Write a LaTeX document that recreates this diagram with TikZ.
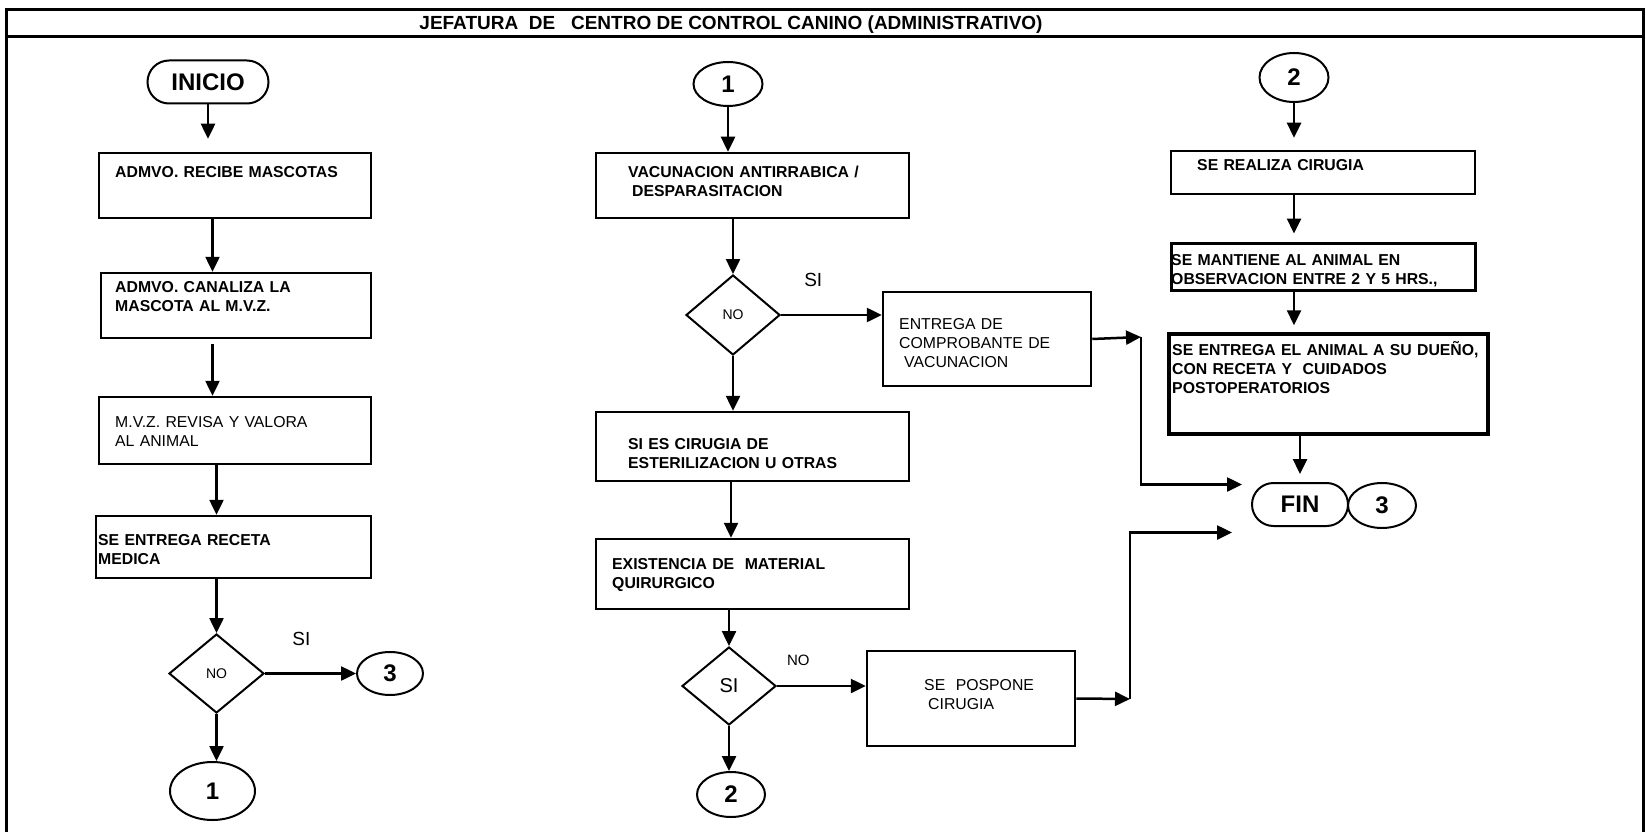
\documentclass[tikz,border=0pt]{standalone}
\usepackage{fontspec}
\setmainfont{Liberation Sans}
\usetikzlibrary{shapes.geometric, shapes.misc, arrows.meta}

\begin{document}
\begin{tikzpicture}[x=1pt, y=-1pt,
	caja/.style = {draw, line width=2.5pt, inner sep=0pt},
	inicio/.style = {draw, line width=2pt, rounded rectangle, minimum width=121pt, minimum height=43pt, inner sep=0pt, font=\fontsize{24}{28}\selectfont\bfseries},
	conector/.style = {draw, line width=2pt, ellipse, inner sep=0pt, font=\fontsize{24}{28}\selectfont\bfseries},
	decision/.style = {draw, line width=2pt, diamond, minimum width=95pt, minimum height=79pt, inner sep=0pt, font=\fontsize{14}{16}\selectfont},
	txt/.style = {anchor=base west, align=left, inner sep=0pt, text width=340pt, font=\fontsize{15.8}{19}\selectfont\bfseries},
	txtn/.style = {txt, font=\fontsize{15.8}{19}\selectfont},
	lbl/.style = {inner sep=0pt, font=\fontsize{19}{21}\selectfont},
	flecha/.style = {line width=2.5pt, -{Triangle[length=15pt, width=14pt]}}]
	\useasboundingbox (0,0) rectangle (1646,832);
	\draw[line width=3pt] (6,832) -- (6,10) -- (1643,10) -- (1643,832);
	\draw[line width=3pt] (6,37) -- (1643,37);
	\node[anchor=base, inner sep=0pt, font=\fontsize{19}{21}\selectfont\bfseries] (0) at (731,30) {JEFATURA\ \ DE\ \ \ CENTRO DE CONTROL CANINO (ADMINISTRATIVO)};

	\node[inicio] (1) at (208,82) {INICIO};
	\node[caja, minimum width=272pt, minimum height=65pt] (2) at (235,185.5) {};
	\node[txt] (2t) at (115,177) {ADMVO. RECIBE MASCOTAS};
	\node[caja, minimum width=270pt, minimum height=65pt] (3) at (236,305.5) {};
	\node[txt] (3t) at (115,292) {ADMVO. CANALIZA LA\\MASCOTA AL M.V.Z.};
	\node[caja, minimum width=272pt, minimum height=67pt] (4) at (235,430.5) {};
	\node[txtn] (4t) at (115,427) {M.V.Z. REVISA Y VALORA\\AL ANIMAL};
	\node[caja, minimum width=275pt, minimum height=62pt] (5) at (233.5,547) {};
	\node[txt] (5t) at (98,545) {SE ENTREGA RECETA\\MEDICA};
	\node[decision] (6) at (216.5,673.5) {NO};
	\node[conector, minimum width=66pt, minimum height=43pt] (7) at (390,673.5) {3};
	\node[conector, minimum width=85pt, minimum height=58pt] (8) at (212.5,791) {1};
	\draw[flecha, shorten >=13pt] (1.south) -- (1.south |- 2.north);
	\draw[flecha] (2.south -| 8) -- (3.north -| 8);
	\draw[flecha, shorten <=5pt] (3.south -| 8) -- (4.north -| 8);
	\draw[flecha] (4.south -| 6) -- (5.north -| 6);
	\draw[flecha] (5.south -| 6) -- (6.north);
	\draw[flecha] (6.east) -- (7.west) node[lbl, pos=0.4, above=27pt] (si1) {SI};
	\draw[flecha] (6.south) -- (6.south |- 8.north);

	\node[conector, minimum width=69pt, minimum height=44pt] (9) at (728,84) {1};
	\node[caja, minimum width=313pt, minimum height=65pt] (10) at (752.5,185.5) {};
	\node[txt] (10t) at (628,177) {VACUNACION ANTIRRABICA /\\\hspace*{4pt}DESPARASITACION};
	\node[decision, minimum width=94pt, minimum height=80pt] (11) at (733,315) {NO};
	\node[caja, minimum width=208pt, minimum height=94pt] (12) at (987,339) {};
	\node[txtn] (12t) at (899,329) {ENTREGA DE\\COMPROBANTE DE\\\hspace*{5pt}VACUNACION};
	\node[caja, minimum width=313pt, minimum height=69pt] (13) at (752.5,446.5) {};
	\node[txt] (13t) at (628,449) {SI ES CIRUGIA DE\\ESTERILIZACION U OTRAS};
	\node[caja, minimum width=313pt, minimum height=70pt] (14) at (752.5,574) {};
	\node[txt] (14t) at (612,569) {EXISTENCIA DE\ \ MATERIAL\\QUIRURGICO};
	\node[decision, minimum width=94pt, minimum height=78pt, font=\fontsize{20}{24}\selectfont] (15) at (729,686) {SI};
	\node[caja, minimum width=208pt, minimum height=95pt] (16) at (971,698.5) {};
	\node[txtn] (16t) at (924,690) {SE\ \ POSPONE\\\hspace*{4pt}CIRUGIA};
	\node[conector, minimum width=68pt, minimum height=45pt] (17) at (731,794.5) {2};
	\draw[flecha] (9.south) -- (9.south |- 10.north);
	\draw[flecha] (10.south -| 11) -- (11.north);
	\draw[flecha] (11.east) -- (11.east -| 12.west) node[lbl, pos=0.32, above=27pt] (si2) {SI};
	\draw[flecha] (11.south) -- (11.south |- 13.north);
	\draw[flecha] (13.south -| 17) -- (14.north -| 17);
	\draw[flecha] (14.south -| 15) -- (15.north);
	\draw[flecha] (15.east) -- (15.east -| 16.west) node[lbl, pos=0.24, above=19pt, font=\fontsize{15}{17}\selectfont] (no2) {NO};
	\draw[flecha] (15.south) -- (15.south |- 17.north);

	\node[conector, minimum width=69pt, minimum height=49pt] (18) at (1294,77.5) {2};
	\node[caja, minimum width=304pt, minimum height=43pt] (19) at (1323,172.5) {};
	\node[txt] (19t) at (1197,171) {SE REALIZA CIRUGIA};
	\node[caja, minimum width=304pt, minimum height=47pt, line width=3pt] (20) at (1323,266.5) {};
	\node[txt] (20t) at (1171,265) {SE MANTIENE AL ANIMAL EN\\OBSERVACION ENTRE 2 Y 5 HRS.,};
	\node[caja, minimum width=319pt, minimum height=100pt, line width=3.5pt] (21) at (1328.5,384) {};
	\node[txt] (21t) at (1172,355) {SE ENTREGA EL ANIMAL A SU DUEÑO,\\CON RECETA Y\ \ CUIDADOS\\POSTOPERATORIOS};
	\node[inicio, minimum width=96pt] (22) at (1300,504.5) {FIN};
	\node[conector, minimum width=68pt, minimum height=45pt] (23) at (1382,505.5) {3};
	\draw[flecha, shorten >=12pt] (18.south) -- (18.south |- 19.north);
	\draw[flecha, shorten >=8pt] (19.south -| 18) -- (20.north -| 18);
	\draw[flecha, shorten >=7pt] (20.south -| 18) -- (21.north -| 18);
	\draw[flecha, shorten >=8pt] (21.south -| 22) -- (22.north);
	\coordinate (k1) at (1141,337);
	\coordinate (k2) at (1130,699);
	\draw[flecha] (12.east) -- (k1);
	\draw[flecha, shorten >=9pt] (k1) |- ([yshift=20pt]22.west);
	\draw[flecha] (16.east) -- (k2);
	\draw[flecha, shorten >=19pt] (k2) |- ([yshift=-28pt]22.west);
\end{tikzpicture}
\end{document}
